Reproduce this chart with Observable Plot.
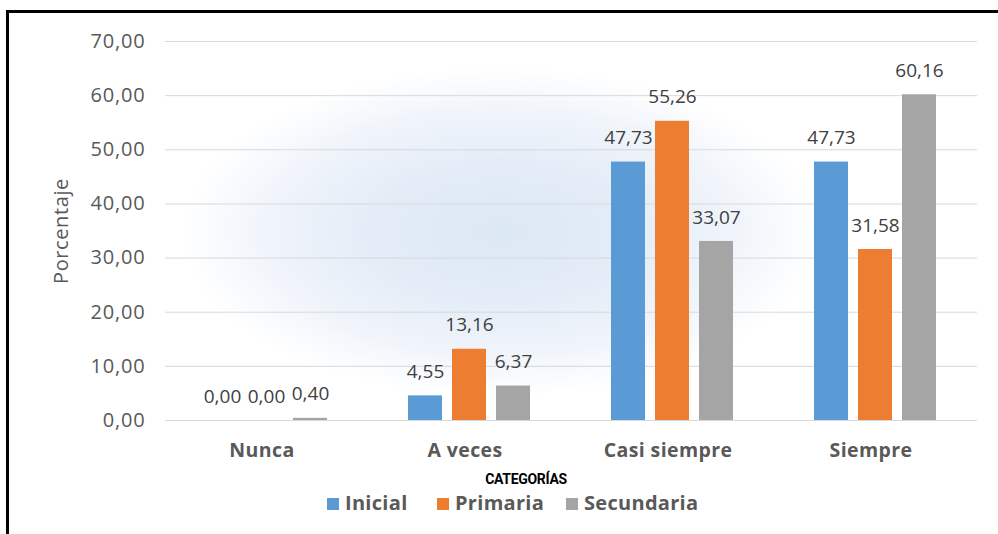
<!DOCTYPE html>
<html>
<head>
<meta charset="utf-8">
<script src="https://cdn.jsdelivr.net/npm/d3@7"></script>
<script src="https://cdn.jsdelivr.net/npm/@observablehq/plot@0.6"></script>
<style>
  html, body { margin: 0; padding: 0; background: #fff; overflow: hidden; }
  #wrap { position: relative; width: 998px; height: 534px; overflow: hidden; }
  #frame { position: absolute; left: 6px; top: 10px; width: 1200px; height: 700px;
           border-left: 3px solid #000; border-top: 3px solid #000; box-sizing: border-box; }
  #glow { position: absolute; left: 0; top: 0; width: 998px; height: 534px;
          background: radial-gradient(ellipse 320px 165px at 500px 232px, #dde8f5 0%, #e3ecf7 40%, #f1f5fb 75%, #ffffff 100%); }
  #chart { position: absolute; left: 0; top: 0; }
  #chart g[aria-label="y-axis tick label"] text { letter-spacing: 0.8px; }
  #chart g[aria-label="y-axis label"] text { letter-spacing: 0.6px; }
  #chart g[aria-label="fx-axis tick label"] text { letter-spacing: 0.4px; }
  #xtitle { position: absolute; left: 526px; top: 471px; transform: translateX(-50%);
            font-family: Roboto, "Liberation Sans", sans-serif; font-weight: bold; font-size: 14px;
            color: #000; letter-spacing: -0.3px; white-space: nowrap; }
  .leg { position: absolute; top: 490px; font-family: "Open Sans", sans-serif; font-weight: bold;
         font-size: 20px; color: #595959; white-space: nowrap; line-height: 26px; letter-spacing: 0.3px; }
  .leg i { display: inline-block; width: 12px; height: 12px; margin-right: 6px; vertical-align: 0px; }
</style>
</head>
<body>
<div id="wrap">
  <div id="glow"></div>
  <div id="frame"></div>
  <div id="chart"></div>
  <div id="xtitle">CATEGORÍAS</div>
  <div id="legend"></div>
</div>
<script>
const categories = ["Nunca", "A veces", "Casi siempre", "Siempre"];
const series = ["Inicial", "Primaria", "Secundaria"];
const inicial = [0.00, 4.55, 47.73, 47.73];
const primaria = [0.00, 13.16, 55.26, 31.58];
const secundaria = [0.40, 6.37, 33.07, 60.16];
const colors = ["#5b9bd5", "#ed7d31", "#a5a5a5"];
const yTicks = [0, 10, 20, 30, 40, 50, 60, 70];
const legendLeft = [327, 437, 566];

const valuesBySeries = [inicial, primaria, secundaria];
const data = [];
categories.forEach((c, i) => {
  series.forEach((s, j) => data.push({cat: c, serie: s, value: valuesBySeries[j][i]}));
});

const fmt = v => d3.format(".2f")(v).replace(".", ",");

const chart = Plot.plot({
  width: 998,
  height: 470,
  marginLeft: 163,
  marginRight: 20,
  marginTop: 41,
  marginBottom: 50,
  style: {background: "transparent", fontFamily: "'Open Sans', sans-serif", overflow: "visible"},
  fx: {domain: categories, padding: 0, label: null},
  x: {domain: series, paddingInner: 0.22, paddingOuter: 0.875, axis: null},
  y: {domain: [0, 70]},
  color: {domain: series, range: colors},
  marks: [
    Plot.gridY(yTicks, {stroke: "#d9d9d9", strokeOpacity: 1, strokeWidth: 1}),
    Plot.axisY(yTicks, {tickSize: 0, tickPadding: 20, tickFormat: fmt, fontSize: 20, color: "#595959",
      label: "Porcentaje", labelAnchor: "center", labelOffset: 112, labelArrow: "none"}),
    Plot.axisFx({anchor: "bottom", tickSize: 0, tickPadding: 23, fontSize: 19.5, fontWeight: "bold",
      color: "#595959", label: null, dx: -5}),
    Plot.barY(data, {fx: "cat", x: "serie", y: "value", fill: "serie"}),
    Plot.text(data, {fx: "cat", x: "serie", y: "value", text: d => fmt(d.value), dy: -24,
      fontSize: 19, fill: "#404040"})
  ]
});
document.getElementById("chart").appendChild(chart);

const legend = document.getElementById("legend");
series.forEach((s, i) => {
  const el = document.createElement("div");
  el.className = "leg";
  el.style.left = legendLeft[i] + "px";
  el.innerHTML = `<i style="background:${colors[i]}"></i>${s}`;
  legend.appendChild(el);
});
</script>
</body>
</html>
